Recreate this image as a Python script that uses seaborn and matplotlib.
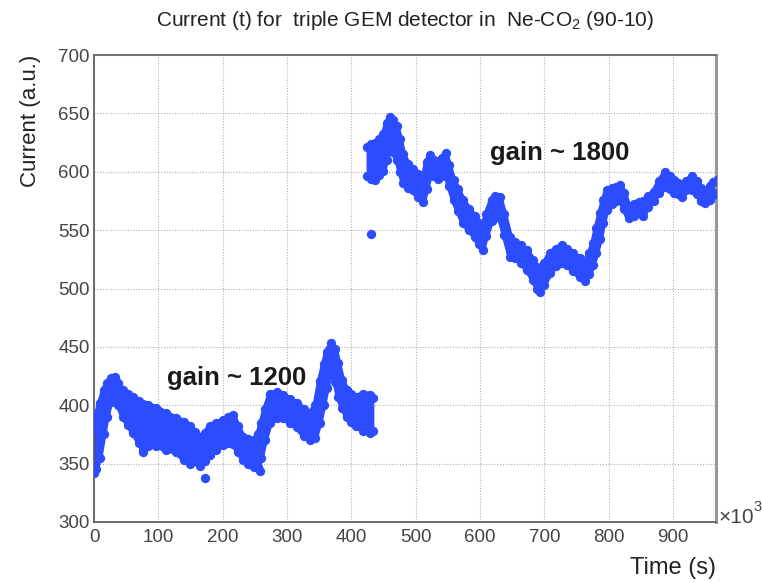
import matplotlib
matplotlib.use("Agg")
import matplotlib.pyplot as plt
from matplotlib.ticker import MultipleLocator
import seaborn as sns

# ---- data (time in 10^3 s, current in a.u.) : lower / upper edge of the measured band ----
t_gain1200 = [0, 3, 9, 15, 20, 26, 32, 38, 45, 53, 61, 70, 76, 84, 97, 112, 128, 140, 149, 157,
              165, 172, 180, 190, 201, 209, 216, 224, 232, 240, 248, 255, 260, 266, 274, 284, 294,
              305, 315, 326, 336, 344, 351, 357, 362, 369, 375, 380, 386, 393, 400, 408, 418, 429, 434]
low_gain1200 = [342, 345, 355, 375, 390, 403, 410, 400, 390, 383, 376, 368, 362, 365, 365, 362, 360, 353, 350, 352,
                348, 352, 357, 362, 366, 368, 367, 360, 353, 350, 347, 347, 355, 370, 385, 389, 389,
                385, 381, 374, 370, 372, 385, 400, 415, 432, 420, 407, 398, 390, 386, 382, 378, 376, 378]
high_gain1200 = [380, 390, 402, 413, 419, 423, 424, 419, 413, 410, 407, 404, 401, 400, 398, 393, 389, 386, 382, 377,
                 373, 376, 382, 385, 387, 390, 392, 382, 373, 371, 370, 375, 385, 397, 410, 411, 409,
                 405, 402, 397, 393, 400, 421, 435, 446, 453, 448, 436, 422, 413, 410, 407, 410, 409, 406]

t_gain1800 = [424, 430, 437, 443, 450, 455, 460, 465, 471, 476, 481, 488, 496, 504, 512, 517, 522, 528, 535, 541,
              547, 552, 559, 566, 574, 583, 592, 598, 604, 610, 618, 624, 631, 638, 647, 655, 664, 673, 683,
              689, 694, 700, 709, 718, 727, 736, 745, 755, 763, 770, 776, 781, 787, 792, 797, 805, 812, 818,
              824, 831, 840, 848, 854, 862, 870, 879, 888, 895, 901, 908, 914, 921, 929, 937, 944, 950, 957,
              963, 968]
low_gain1800 = [596, 594, 593, 597, 601, 610, 621, 617, 610, 600, 590, 586, 584, 578, 574, 585, 596, 596, 594, 596,
                598, 588, 576, 566, 556, 550, 544, 538, 533, 545, 558, 563, 560, 546, 527, 526, 522, 516, 507,
                500, 497, 503, 513, 519, 522, 520, 515, 510, 506, 512, 520, 530, 542, 556, 567, 572, 575, 576,
                568, 560, 562, 565, 562, 570, 575, 582, 587, 585, 582, 581, 578, 584, 584, 581, 575, 573, 576,
                580, 582]
high_gain1800 = [621, 624, 625, 628, 632, 642, 647, 644, 639, 628, 615, 607, 602, 598, 594, 608, 614, 610, 606, 612,
                 616, 606, 593, 585, 576, 568, 562, 556, 551, 564, 576, 579, 578, 564, 544, 540, 537, 533, 524,
                 518, 515, 522, 530, 534, 537, 534, 530, 526, 522, 530, 539, 552, 565, 576, 584, 586, 587, 589,
                 582, 571, 572, 574, 575, 579, 583, 592, 600, 596, 593, 590, 587, 592, 596, 592, 586, 583, 588,
                 591, 593]

# isolated measurements
t_single = [76, 172.5, 258, 430.6]
I_single = [360, 338, 344, 546.4]

x_ticks = [0, 100, 200, 300, 400, 500, 600, 700, 800, 900]
y_ticks = [300, 350, 400, 450, 500, 550, 600, 650, 700]

title = "Current (t) for  triple GEM detector in  Ne-CO$_2$ (90-10)"

# ---- style ----
sns.set_style("white")
plt.rcParams['font.family'] = ['Liberation Sans', 'DejaVu Sans']
plt.rcParams['mathtext.fontset'] = 'custom'
plt.rcParams['mathtext.rm'] = 'Liberation Sans'
plt.rcParams['mathtext.default'] = 'regular'

W, H = 762, 582
fig = plt.figure(figsize=(W / 100, H / 100), dpi=100)
ax = fig.add_axes([94 / W, 1 - 522 / H, (716 - 94) / W, (522 - 55) / H])

blue = '#2b4cff'
for t, lo, hi in [(t_gain1200, low_gain1200, high_gain1200), (t_gain1800, low_gain1800, high_gain1800)]:
    ax.fill_between(t, lo, hi, facecolor=blue, edgecolor=blue, linewidth=1.0, zorder=2.5)
    sns.lineplot(x=t, y=lo, ax=ax, color=blue, lw=4, solid_capstyle='round', zorder=3)
    sns.lineplot(x=t, y=hi, ax=ax, color=blue, lw=4, solid_capstyle='round', zorder=3)
    sns.scatterplot(x=t, y=lo, ax=ax, color=blue, s=45, linewidth=0, zorder=3)
    sns.scatterplot(x=t, y=hi, ax=ax, color=blue, s=45, linewidth=0, zorder=3)
sns.scatterplot(x=t_single, y=I_single, ax=ax, color=blue, s=45, linewidth=0, zorder=3)

ax.set_xlim(0, 967)
ax.set_ylim(300, 700)
ax.set_xticks(x_ticks)
ax.set_yticks(y_ticks)
ax.xaxis.set_minor_locator(MultipleLocator(20))
ax.yaxis.set_minor_locator(MultipleLocator(10))

ax.tick_params(axis='both', which='both', direction='in', top=False, right=False,
               color='#555555', labelcolor='#444444', labelsize=13.5, width=1)
ax.tick_params(axis='x', which='major', length=10, pad=5)
ax.tick_params(axis='x', which='minor', length=5)
ax.tick_params(axis='y', which='major', length=14, pad=3)
ax.tick_params(axis='y', which='minor', length=7)

ax.grid(True, which='major', linestyle=(0, (1, 1.5)), color='#b0b0b0', lw=0.8)
ax.set_axisbelow(True)

for side in ['left', 'bottom']:
    ax.spines[side].set_color('#555555')
    ax.spines[side].set_linewidth(1.2)
ax.spines['top'].set_color('#666666')
ax.spines['top'].set_linewidth(1.3)
ax.spines['right'].set_color('#999999')
ax.spines['right'].set_linewidth(2.2)

ax.set_xlabel("Time (s)", fontsize=17, color='#222222', loc='right')
ax.set_ylabel("Current (a.u.)", fontsize=16, color='#222222', loc='top')
ax.xaxis.set_label_coords(1.0, -0.076)
ax.yaxis.set_label_coords(-0.085, 1.0)

ax.text(222, 423, "gain ~ 1200", fontsize=18.5, fontweight='bold', color='#1a1a1a',
        ha='center', va='center', zorder=5)
ax.text(724, 616, "gain ~ 1800", fontsize=18.5, fontweight='bold', color='#1a1a1a',
        ha='center', va='center', zorder=5)

fig.text(405 / W, 1 - 20 / H, title, ha='center', va='center', fontsize=15, color='#222222')
fig.text(719 / W, 1 - 523 / H, "×10", ha='left', va='baseline', fontsize=15, color='#444444')
fig.text(753 / W, 1 - 511 / H, "3", ha='left', va='baseline', fontsize=10.5, color='#444444')

fig.savefig("out.png", dpi=100)
